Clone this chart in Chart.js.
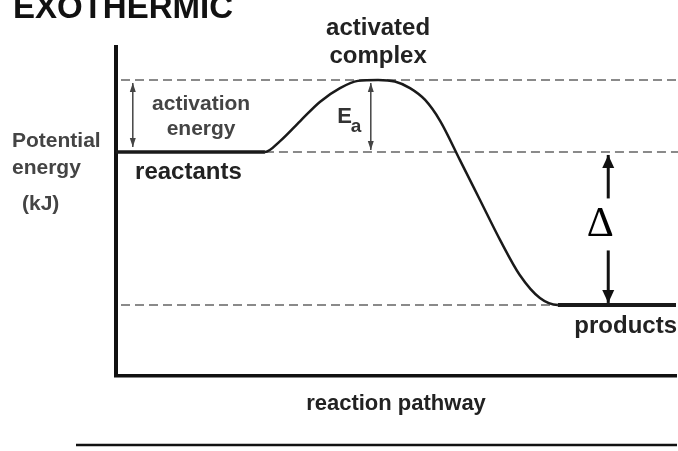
<!DOCTYPE html>
<html><head><meta charset="utf-8">
<script src="https://cdn.jsdelivr.net/npm/chart.js@4.4.0/dist/chart.umd.min.js"></script>
<style>html,body{margin:0;padding:0;background:#fff;}canvas{display:block;}</style>
</head><body>
<canvas id="c" width="678" height="451"></canvas>
<script>
// ---- data ----
const pathway = [0, 26.6, 29.3, 32.9, 36.4, 40.0, 43.2, 46.8, 49.8, 52.5, 55.2, 57.9, 61.4, 65.0, 68.6, 72.1, 75.7, 78.9, 100];
const energy  = [68.1, 68.1, 71.4, 77.5, 83.3, 87.5, 89.7, 90.0, 89.5, 87.5, 83.9, 77.5, 65.7, 53.5, 41.3, 30.7, 23.7, 21.6, 21.6];
const titleText = "EXOTHERMIC";
const yAxisLabel = ["Potential", "energy", "(kJ)"];
const xAxisLabel = "reaction pathway";
const complexLabel = ["activated", "complex"];
const reactantLabel = "reactants";
const productLabel = "products";
const activationLabel = ["activation", "energy"];
const eaLabel = ["E", "a"];
const deltaLabel = "\u0394";

const reactantEnergy = energy[0];
const peakEnergy = Math.max(...energy);
const productEnergy = energy[energy.length - 1];
const reactantEndIdx = 1;
const productStartIdx = energy.length - 2;

const points = pathway.map((x, i) => ({x, y: energy[i]}));
const FONT = '"Liberation Sans", Arial, sans-serif';

function arrowHead(ctx, x, y, dir, w, h) {
  ctx.beginPath();
  ctx.moveTo(x, y);
  ctx.lineTo(x - w / 2, y - dir * h);
  ctx.lineTo(x + w / 2, y - dir * h);
  ctx.closePath();
  ctx.fill();
}
function vArrow(ctx, x, y1, y2, opts) {
  ctx.save();
  ctx.strokeStyle = opts.color; ctx.fillStyle = opts.color; ctx.lineWidth = opts.width;
  ctx.beginPath(); ctx.moveTo(x, y1); ctx.lineTo(x, y2); ctx.stroke();
  const dir = y2 > y1 ? 1 : -1;
  arrowHead(ctx, x, y2, dir, opts.hw, opts.hh);
  if (opts.both) arrowHead(ctx, x, y1, -dir, opts.hw, opts.hh);
  ctx.restore();
}

const diagramPlugin = {
  id: 'diagram',
  beforeDatasetsDraw(chart) {
    const {ctx, chartArea, scales: {x, y}} = chart;
    const yR = y.getPixelForValue(reactantEnergy);
    const yP = y.getPixelForValue(peakEnergy);
    const yPr = y.getPixelForValue(productEnergy);
    ctx.save();
    ctx.strokeStyle = '#8a8a8a';
    ctx.lineWidth = 2;
    ctx.setLineDash([9, 5]);
    const left = chartArea.left + 5, right = chart.width;
    ctx.beginPath(); ctx.moveTo(left, yP); ctx.lineTo(right, yP); ctx.stroke();
    ctx.beginPath(); ctx.moveTo(x.getPixelForValue(pathway[reactantEndIdx]), yR); ctx.lineTo(right, yR); ctx.stroke();
    ctx.beginPath(); ctx.moveTo(left, yPr); ctx.lineTo(x.getPixelForValue(pathway[productStartIdx]), yPr); ctx.stroke();
    ctx.restore();
  },
  afterDraw(chart) {
    const {ctx, chartArea, scales: {x, y}} = chart;
    const yR = y.getPixelForValue(reactantEnergy);
    const yP = y.getPixelForValue(peakEnergy);
    const yPr = y.getPixelForValue(productEnergy);
    ctx.save();
    ctx.textBaseline = 'alphabetic';
    // title
    ctx.fillStyle = '#111';
    ctx.font = 'bold 33px ' + FONT;
    ctx.textAlign = 'left';
    ctx.fillText(titleText, 13, 18);
    // y axis label
    ctx.fillStyle = '#444';
    ctx.font = 'bold 21px ' + FONT;
    ctx.fillText(yAxisLabel[0], 12, 147);
    ctx.fillText(yAxisLabel[1], 12, 174);
    ctx.fillText(yAxisLabel[2], 22, 210);
    // x axis label
    ctx.fillStyle = '#222';
    ctx.font = 'bold 22px ' + FONT;
    ctx.textAlign = 'center';
    ctx.fillText(xAxisLabel, 396, chartArea.bottom + 34);
    // activated complex
    ctx.font = 'bold 24px ' + FONT;
    ctx.fillText(complexLabel[0], x.getPixelForValue(46.8), yP - 45);
    ctx.fillText(complexLabel[1], x.getPixelForValue(46.8), yP - 17);
    // reactants / products
    ctx.textAlign = 'left';
    ctx.fillText(reactantLabel, x.getPixelForValue(3.4), yR + 27);
    ctx.textAlign = 'right';
    ctx.fillText(productLabel, chartArea.right + 1, yPr + 28);
    // activation energy
    ctx.fillStyle = '#444';
    ctx.font = 'bold 21px ' + FONT;
    ctx.textAlign = 'center';
    ctx.fillText(activationLabel[0], x.getPixelForValue(15.2), yP + 30);
    ctx.fillText(activationLabel[1], x.getPixelForValue(15.2), yP + 55);
    // Ea
    ctx.fillStyle = '#333';
    ctx.textAlign = 'left';
    ctx.font = 'bold 22px ' + FONT;
    const ex = x.getPixelForValue(39.5);
    ctx.fillText(eaLabel[0], ex, yP + 43);
    const ew = ctx.measureText(eaLabel[0]).width;
    ctx.font = 'bold 19px ' + FONT;
    ctx.fillText(eaLabel[1], ex + ew - 1, yP + 52);
    // thin arrows
    const thin = {color: '#444', width: 1.5, hw: 6, hh: 9, both: true};
    vArrow(ctx, x.getPixelForValue(3.0), yP + 3, yR - 5, thin);
    vArrow(ctx, x.getPixelForValue(45.5), yP + 3, yR - 2, thin);
    // delta arrows
    const dx = x.getPixelForValue(87.9);
    const mid = (yR + yPr) / 2;
    const thick = {color: '#111', width: 3, hw: 12, hh: 13, both: false};
    vArrow(ctx, dx, mid - 30, yR + 3, thick);
    vArrow(ctx, dx, mid + 22, yPr - 2, thick);
    ctx.fillStyle = '#000';
    ctx.font = '42px "Liberation Serif", "DejaVu Serif", serif';
    ctx.textAlign = 'center';
    ctx.fillText(deltaLabel, dx - 8, mid + 8);
    // bottom rule
    ctx.strokeStyle = '#111';
    ctx.lineWidth = 2.5;
    ctx.setLineDash([]);
    ctx.beginPath(); ctx.moveTo(76, 445); ctx.lineTo(677, 445); ctx.stroke();
    ctx.restore();
  }
};

new Chart(document.getElementById('c'), {
  type: 'scatter',
  data: {
    datasets: [{
      data: points,
      showLine: true,
      pointRadius: 0,
      borderColor: '#1a1a1a',
      borderWidth: 2.5,
      cubicInterpolationMode: 'monotone',
      segment: {
        borderWidth: c => (c.p1DataIndex <= reactantEndIdx ? 3.5 : (c.p0DataIndex >= productStartIdx ? 4 : 2.5))
      }
    }]
  },
  options: {
    responsive: false,
    devicePixelRatio: 1,
    animation: false,
    events: [],
    layout: {padding: {left: 116, top: 47, right: 2, bottom: 75}},
    plugins: {legend: {display: false}, tooltip: {enabled: false}, title: {display: false}},
    scales: {
      x: {type: 'linear', min: 0, max: 100,
          grid: {display: false, drawTicks: false},
          ticks: {display: false},
          border: {display: true, color: '#111', width: 3.5}},
      y: {type: 'linear', min: 0, max: 100,
          grid: {display: false, drawTicks: false},
          ticks: {display: false},
          border: {display: true, color: '#111', width: 4}}
    }
  },
  plugins: [diagramPlugin]
});
</script>
</body></html>
